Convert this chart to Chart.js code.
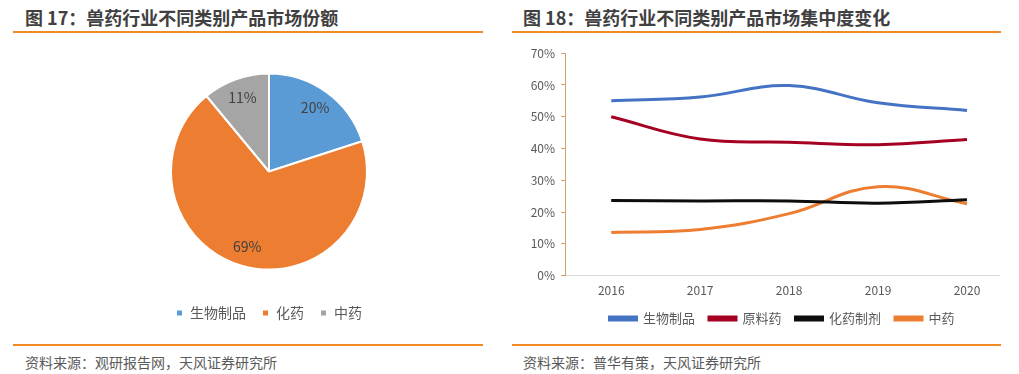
<!DOCTYPE html>
<html lang="zh">
<head>
<meta charset="UTF-8">
<title>兽药行业不同类别产品</title>
<script src="https://cdn.jsdelivr.net/npm/chart.js"></script>
<style>
  body { margin: 0; width: 1019px; height: 374px; background: #fff; position: relative; overflow: hidden;
         font-family: "Noto Sans CJK SC", "Liberation Sans", sans-serif; }
  .title { position: absolute; top: 4px; font-size: 18px; font-weight: bold; color: #404040; white-space: nowrap; }
  .rule { position: absolute; height: 2px; background: #F08A24; }
  .src { position: absolute; top: 352px; font-size: 14px; color: #595959; white-space: nowrap; }
  .box { position: absolute; }
</style>
</head>
<body>
  <div class="title" style="left:25px">图 17：兽药行业不同类别产品市场份额</div>
  <div class="rule" style="left:13px; width:470px; top:31px"></div>
  <div class="title" style="left:523px">图 18：兽药行业不同类别产品市场集中度变化</div>
  <div class="rule" style="left:512px; width:489px; top:31px"></div>

  <div class="box" style="left:119px; top:53px; width:300px; height:277px"><canvas id="pie"></canvas></div>
  <div class="box" style="left:515px; top:40px; width:490px; height:295px"><canvas id="line"></canvas></div>

  <div class="rule" style="left:13px; width:470px; top:344px"></div>
  <div class="src" style="left:25px">资料来源：观研报告网，天风证券研究所</div>
  <div class="rule" style="left:512px; width:489px; top:344px"></div>
  <div class="src" style="left:523px">资料来源：普华有策，天风证券研究所</div>

<script>
  // 图17 市场份额
  const shareLabels = ['生物制品', '化药', '中药'];
  const shareValues = [20, 69, 11];
  const shareColors = ['#5B9BD5', '#ED7D31', '#A5A5A5'];

  // 图18 集中度变化
  const years = [2016, 2017, 2018, 2019, 2020];
  const bio = [55, 56.2, 59.8, 54.4, 52];
  const api = [50, 43, 42, 41.2, 42.8];
  const prep = [23.6, 23.5, 23.5, 22.8, 23.9];
  const tcm = [13.6, 14.5, 19.5, 28, 22.6];
  const yTicks = [0, 10, 20, 30, 40, 50, 60, 70];

  const cjk = '"Noto Sans CJK SC", "Liberation Sans", sans-serif';
  Chart.defaults.font.family = cjk;
  Chart.defaults.color = '#595959';

  const pieLabels = {
    id: 'pieLabels',
    afterDatasetsDraw(chart) {
      const ctx = chart.ctx;
      const meta = chart.getDatasetMeta(0);
      ctx.save();
      ctx.font = '14px ' + cjk;
      ctx.fillStyle = '#404040';
      ctx.textAlign = 'center';
      ctx.textBaseline = 'middle';
      meta.data.forEach((arc, i) => {
        const p = arc.getProps(['x', 'y', 'startAngle', 'endAngle', 'outerRadius']);
        const mid = (p.startAngle + p.endAngle) / 2;
        const r = p.outerRadius * 0.8;
        ctx.fillText(shareValues[i] + '%', p.x + Math.cos(mid) * r, p.y + Math.sin(mid) * r);
      });
      ctx.restore();
    }
  };

  new Chart(document.getElementById('pie'), {
    type: 'pie',
    data: {
      labels: shareLabels,
      datasets: [{ data: shareValues, backgroundColor: shareColors, borderColor: '#fff', borderWidth: 2, radius: 98 }]
    },
    options: {
      responsive: true,
      maintainAspectRatio: false,
      animation: false,
      plugins: {
        tooltip: { enabled: false },
        legend: {
          position: 'bottom',
          labels: { boxWidth: 7, boxHeight: 7, padding: 16, font: { size: 14 }, color: '#595959' }
        }
      }
    },
    plugins: [pieLabels]
  });

  function series(label, vals, color) {
    return { label, data: vals.map((v, i) => ({ x: years[i], y: v })), borderColor: color,
             backgroundColor: color, borderWidth: 3, pointRadius: 0, tension: 0.4, fill: false };
  }

  new Chart(document.getElementById('line'), {
    type: 'line',
    data: {
      datasets: [
        series('生物制品', bio, '#4472C4'),
        series('原料药', api, '#A50021'),
        series('化药制剂', prep, '#0D0D0D'),
        series('中药', tcm, '#ED7D31')
      ]
    },
    options: {
      responsive: true,
      maintainAspectRatio: false,
      animation: false,
      layout: { padding: { top: 2, right: 6 } },
      plugins: {
        tooltip: { enabled: false },
        legend: {
          position: 'bottom',
          fullSize: false,
          labels: { boxWidth: 27, boxHeight: 3, padding: 14, font: { size: 13 }, color: '#595959' }
        }
      },
      scales: {
        x: {
          type: 'linear',
          min: 2015.48, max: 2020.36,
          afterBuildTicks(axis) { axis.ticks = years.map(v => ({ value: v })); },
          grid: { display: false, drawTicks: false },
          border: { color: '#D9D9D9', width: 1 },
          ticks: { font: { size: 12 }, color: '#595959', padding: 8, callback: v => String(v) },
          afterFit(axis) { axis.height -= 8; }
        },
        y: {
          min: 0, max: 70,
          afterBuildTicks(axis) { axis.ticks = yTicks.map(v => ({ value: v })); },
          grid: { drawOnChartArea: false, drawTicks: true, tickLength: 4, color: '#C9A56A' },
          border: { color: '#C9A56A', width: 1 },
          ticks: { font: { size: 12 }, color: '#595959', padding: 6, callback: v => v + '%' },
          afterFit(axis) { axis.width = 50; }
        }
      }
    }
  });
</script>
</body>
</html>
